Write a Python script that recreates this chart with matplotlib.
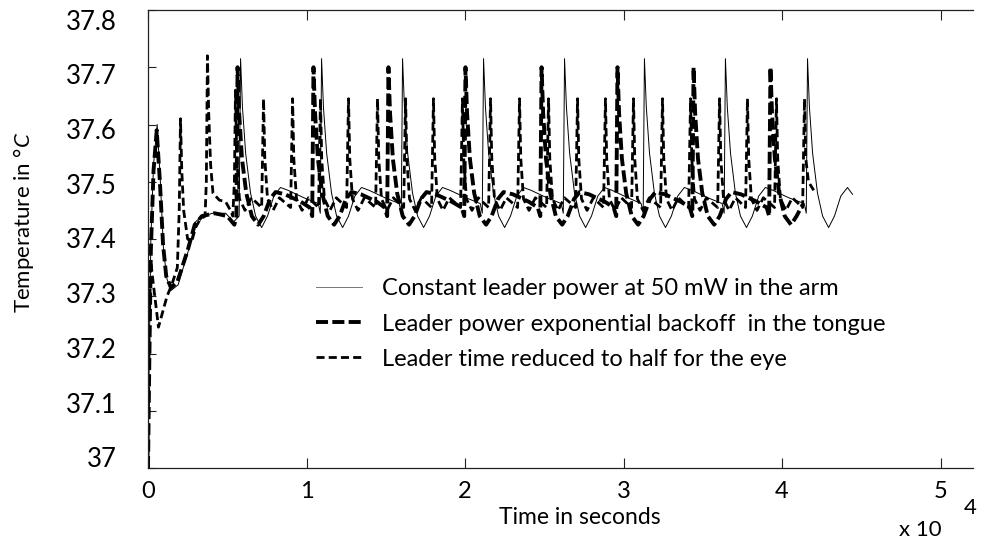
import numpy as np
import matplotlib
matplotlib.use("Agg")
import matplotlib.pyplot as plt

plt.rcParams['font.family'] = ['Lato', 'DejaVu Sans']
plt.rcParams['mathtext.fontset'] = 'custom'
plt.rcParams['mathtext.it'] = 'Lato:italic'
plt.rcParams['mathtext.rm'] = 'Lato'

# ----------------------------
# data (time in units of 10^4 s, temperature in deg C)
# ----------------------------
t_arm = [0.000, 0.008, 0.018, 0.035, 0.058, 0.078, 0.098, 0.120, 0.145, 0.190,
         0.255, 0.300, 0.340, 0.410, 0.490, 0.540, 0.575,
         0.584, 0.596, 0.616, 0.647, 0.679, 0.717, 0.754, 0.794, 0.836, 0.884, 0.984, 1.074, 1.087,
         1.095, 1.107, 1.127, 1.158, 1.190, 1.228, 1.265, 1.305, 1.347, 1.395, 1.495, 1.585, 1.598,
         1.606, 1.618, 1.638, 1.669, 1.701, 1.739, 1.776, 1.816, 1.858, 1.906, 2.006, 2.096, 2.109,
         2.117, 2.129, 2.149, 2.180, 2.212, 2.250, 2.287, 2.327, 2.369, 2.417, 2.517, 2.607, 2.620,
         2.628, 2.640, 2.660, 2.691, 2.723, 2.761, 2.798, 2.838, 2.880, 2.928, 3.028, 3.111, 3.124,
         3.132, 3.144, 3.164, 3.195, 3.227, 3.265, 3.302, 3.342, 3.384, 3.432, 3.532, 3.622, 3.635,
         3.643, 3.655, 3.675, 3.706, 3.738, 3.776, 3.813, 3.853, 3.895, 3.943, 4.043, 4.140, 4.153,
         4.161, 4.173, 4.193, 4.224, 4.256, 4.294, 4.331, 4.371, 4.413, 4.445]
temp_arm = [37.00, 37.20, 37.40, 37.53, 37.60, 37.50, 37.38, 37.33, 37.31, 37.32,
            37.38, 37.43, 37.44, 37.445, 37.445, 37.43, 37.44,
            37.715, 37.63, 37.55, 37.48, 37.44, 37.42, 37.44, 37.475, 37.49, 37.485, 37.472, 37.462, 37.445,
            37.715, 37.63, 37.55, 37.48, 37.44, 37.42, 37.44, 37.475, 37.49, 37.485, 37.472, 37.462, 37.445,
            37.715, 37.63, 37.55, 37.48, 37.44, 37.42, 37.44, 37.475, 37.49, 37.485, 37.472, 37.462, 37.445,
            37.715, 37.63, 37.55, 37.48, 37.44, 37.42, 37.44, 37.475, 37.49, 37.485, 37.472, 37.462, 37.445,
            37.715, 37.63, 37.55, 37.48, 37.44, 37.42, 37.44, 37.475, 37.49, 37.485, 37.472, 37.462, 37.445,
            37.715, 37.63, 37.55, 37.48, 37.44, 37.42, 37.44, 37.475, 37.49, 37.485, 37.472, 37.462, 37.445,
            37.715, 37.63, 37.55, 37.48, 37.44, 37.42, 37.44, 37.475, 37.49, 37.485, 37.472, 37.462, 37.445,
            37.715, 37.63, 37.55, 37.48, 37.44, 37.42, 37.44, 37.475, 37.49, 37.478]

t_tongue = [0.000, 0.008, 0.018, 0.035, 0.055, 0.075, 0.095, 0.115, 0.145, 0.185,
            0.250, 0.295, 0.340, 0.420, 0.500, 0.545, 0.558,
            0.565, 0.575, 0.593, 0.620, 0.655, 0.695, 0.730, 0.770, 0.805, 0.865, 0.965, 1.020, 1.036,
            1.044, 1.054, 1.072, 1.099, 1.134, 1.174, 1.209, 1.249, 1.284, 1.344, 1.444, 1.493, 1.509,
            1.517, 1.527, 1.545, 1.572, 1.607, 1.647, 1.682, 1.722, 1.757, 1.817, 1.917, 1.979, 1.995,
            2.003, 2.013, 2.031, 2.058, 2.093, 2.133, 2.168, 2.208, 2.243, 2.303, 2.403, 2.459, 2.475,
            2.483, 2.493, 2.511, 2.538, 2.573, 2.613, 2.648, 2.688, 2.723, 2.783, 2.883, 2.938, 2.954,
            2.962, 2.972, 2.990, 3.017, 3.052, 3.092, 3.127, 3.167, 3.202, 3.262, 3.362, 3.418, 3.434,
            3.442, 3.452, 3.470, 3.497, 3.532, 3.572, 3.607, 3.647, 3.682, 3.742, 3.842, 3.903, 3.919,
            3.927, 3.937, 3.955, 3.982, 4.017, 4.057, 4.092, 4.130]
temp_tongue = [37.00, 37.18, 37.38, 37.52, 37.59, 37.50, 37.39, 37.335, 37.315, 37.325,
               37.38, 37.425, 37.44, 37.445, 37.44, 37.425, 37.44,
               37.70, 37.62, 37.54, 37.48, 37.44, 37.425, 37.44, 37.47, 37.482, 37.478, 37.465, 37.455, 37.44,
               37.70, 37.62, 37.54, 37.48, 37.44, 37.425, 37.44, 37.47, 37.482, 37.478, 37.465, 37.455, 37.44,
               37.70, 37.62, 37.54, 37.48, 37.44, 37.425, 37.44, 37.47, 37.482, 37.478, 37.465, 37.455, 37.44,
               37.70, 37.62, 37.54, 37.48, 37.44, 37.425, 37.44, 37.47, 37.482, 37.478, 37.465, 37.455, 37.44,
               37.70, 37.62, 37.54, 37.48, 37.44, 37.425, 37.44, 37.47, 37.482, 37.478, 37.465, 37.455, 37.44,
               37.70, 37.62, 37.54, 37.48, 37.44, 37.425, 37.44, 37.47, 37.482, 37.478, 37.465, 37.455, 37.44,
               37.70, 37.62, 37.54, 37.48, 37.44, 37.425, 37.44, 37.47, 37.482, 37.478, 37.465, 37.455, 37.44,
               37.70, 37.62, 37.54, 37.48, 37.44, 37.425, 37.44, 37.46]

# eye: start-up part, then one row per spike (20 spikes), then the tail
t_eye = [0.000, 0.008, 0.018, 0.030, 0.066, 0.090, 0.120, 0.150, 0.185, 0.197,
         0.205, 0.213, 0.225, 0.250, 0.275, 0.300, 0.330, 0.360, 0.368,
         0.375, 0.383, 0.395, 0.410, 0.450, 0.490, 0.520, 0.535, 0.545,
         0.552, 0.560, 0.577, 0.612, 0.652, 0.717,   # 1
         0.729, 0.737, 0.754, 0.789, 0.829, 0.900,   # 2
         0.912, 0.920, 0.937, 0.972, 1.012, 1.076,   # 3
         1.088, 1.096, 1.113, 1.148, 1.188, 1.253,   # 4
         1.265, 1.273, 1.290, 1.325, 1.365, 1.436,   # 5
         1.448, 1.456, 1.473, 1.508, 1.548, 1.613,   # 6
         1.625, 1.633, 1.650, 1.685, 1.725, 1.789,   # 7
         1.801, 1.809, 1.826, 1.861, 1.901, 1.972,   # 8
         1.984, 1.992, 2.009, 2.044, 2.084, 2.149,   # 9
         2.161, 2.169, 2.186, 2.221, 2.261, 2.332,   # 10
         2.344, 2.352, 2.369, 2.404, 2.444, 2.515,   # 11
         2.527, 2.535, 2.552, 2.587, 2.627, 2.698,   # 12
         2.710, 2.718, 2.735, 2.770, 2.810, 2.874,   # 13
         2.886, 2.894, 2.911, 2.946, 2.986, 3.051,   # 14
         3.063, 3.071, 3.088, 3.123, 3.163, 3.234,   # 15
         3.246, 3.254, 3.271, 3.306, 3.346, 3.411,   # 16
         3.423, 3.431, 3.448, 3.483, 3.523, 3.594,   # 17
         3.606, 3.614, 3.631, 3.666, 3.706, 3.770,   # 18
         3.782, 3.790, 3.807, 3.842, 3.882, 3.953,   # 19
         3.965, 3.973, 3.990, 4.025, 4.065, 4.130,   # 20
         4.142, 4.150, 4.167, 4.200]
temp_eye = [37.00, 37.25, 37.36, 37.33, 37.246, 37.27, 37.30, 37.32, 37.35, 37.45,
            37.61, 37.52, 37.45, 37.40, 37.395, 37.42, 37.435, 37.44, 37.50,
            37.72, 37.62, 37.53, 37.48, 37.468, 37.465, 37.45, 37.44, 37.50,
            37.66, 37.54, 37.47, 37.45, 37.472, 37.455,    # 1
            37.645, 37.54, 37.47, 37.45, 37.472, 37.455,   # 2
            37.645, 37.54, 37.47, 37.45, 37.472, 37.455,   # 3
            37.645, 37.54, 37.47, 37.45, 37.472, 37.455,   # 4
            37.645, 37.54, 37.47, 37.45, 37.472, 37.455,   # 5
            37.645, 37.54, 37.47, 37.45, 37.472, 37.455,   # 6
            37.645, 37.54, 37.47, 37.45, 37.472, 37.455,   # 7
            37.645, 37.54, 37.47, 37.45, 37.472, 37.455,   # 8
            37.645, 37.54, 37.47, 37.45, 37.472, 37.455,   # 9
            37.645, 37.54, 37.47, 37.45, 37.472, 37.455,   # 10
            37.645, 37.54, 37.47, 37.45, 37.472, 37.455,   # 11
            37.645, 37.54, 37.47, 37.45, 37.472, 37.455,   # 12
            37.645, 37.54, 37.47, 37.45, 37.472, 37.455,   # 13
            37.645, 37.54, 37.47, 37.45, 37.472, 37.455,   # 14
            37.645, 37.54, 37.47, 37.45, 37.472, 37.455,   # 15
            37.645, 37.54, 37.47, 37.45, 37.472, 37.455,   # 16
            37.645, 37.54, 37.47, 37.45, 37.472, 37.455,   # 17
            37.645, 37.54, 37.47, 37.45, 37.472, 37.455,   # 18
            37.645, 37.54, 37.47, 37.45, 37.472, 37.455,   # 19
            37.645, 37.54, 37.47, 37.45, 37.472, 37.455,   # 20
            37.645, 37.54, 37.50, 37.485]

labels = ["Constant leader power at 50 mW in the arm",
          "Leader power exponential backoff  in the tongue",
          "Leader time reduced to half for the eye"]
x_ticks = [0, 1, 2, 3, 4, 5]
y_ticks = [37.0, 37.1, 37.2, 37.3, 37.4, 37.5, 37.6, 37.7, 37.8]
y_ticklabels = ["37", "37.1", "37.2", "37.3", "37.4", "37.5", "37.6", "37.7", "37.8"]

# ----------------------------
# figure
# ----------------------------
W, H = 981, 545
fig = plt.figure(figsize=(W / 100, H / 100), dpi=100)
ax = fig.add_axes([148 / W, 1 - 468 / H, 825 / W, 458 / H])

ax.plot(t_arm, temp_arm, color="black", lw=0.7, label=labels[0])
ax.plot(t_tongue, temp_tongue, color="black", lw=2.8, linestyle=(0, (3.1, 1.1)), label=labels[1])
ax.plot(t_eye, temp_eye, color="black", lw=2.0, linestyle=(0, (2.9, 1.5)), label=labels[2])

ax.set_xlim(0, 5.205)
ax.set_ylim(37.0, 37.8)
ax.set_xticks(x_ticks)
ax.set_xticklabels([str(v) for v in x_ticks])
ax.set_yticks(y_ticks)
ax.set_yticklabels([])

for side in ["top", "left", "bottom"]:
    ax.spines[side].set_color("#222222")
    ax.spines[side].set_linewidth(0.9)
ax.spines["right"].set_visible(False)

ax.tick_params(axis="x", direction="in", top=True, length=7, width=0.8,
               labelsize=17, pad=9, colors="#222222", labelcolor="black")
ax.tick_params(axis="y", direction="in", right=False, length=6, width=0.8, colors="#222222")

# y tick labels sit a little off their ticks in the original export
for v, s in zip(y_ticks, y_ticklabels):
    ypix = 22 + (37.8 - v) / 0.1 * 54.75
    fig.text(117 / W, 1 - ypix / H, s, ha="right", va="center", fontsize=18.5)

fig.text(580 / W, 1 - 517 / H, "Time in seconds", ha="center", va="center", fontsize=16.5)
fig.text(24 / W, 1 - 222 / H, "Temperature in °$\\mathit{C}$", rotation=90,
         ha="center", va="center", fontsize=16)
fig.text(920 / W, 1 - 530 / H, "x 10", ha="center", va="center", fontsize=16)
fig.text(970 / W, 1 - 508 / H, "4", ha="center", va="center", fontsize=16)

leg = ax.legend(loc="upper left", bbox_to_anchor=(0.2036, 0.414), frameon=False,
                fontsize=17, handlelength=1.95, handletextpad=0.85, labelspacing=0.6,
                borderpad=0, borderaxespad=0)
leg.get_lines()[0].set_color("#777777")

fig.savefig("out.png", dpi=100)
